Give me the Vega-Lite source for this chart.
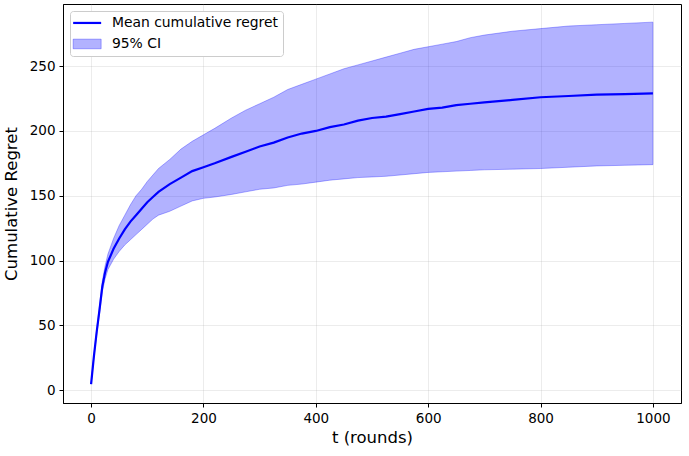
{
  "$schema": "https://vega.github.io/schema/vega-lite/v6.json",
  "autosize": "none",
  "width": 618,
  "height": 399,
  "padding": {"left": 63, "top": 4, "right": 8, "bottom": 53},
  "background": "white",
  "config": {
    "font": "DejaVu Sans",
    "view": {"stroke": "black", "strokeWidth": 1},
    "axis": {
      "domainColor": "black", "tickColor": "black", "tickSize": 4,
      "labelFont": "DejaVu Sans", "labelFontSize": 13.5, "labelColor": "black",
      "titleFont": "DejaVu Sans", "titleFontSize": 16.5, "titleFontWeight": "normal", "titleColor": "black",
      "gridColor": "#b0b0b0", "gridOpacity": 0.3, "gridWidth": 0.8
    },
    "legend": {
      "labelFont": "DejaVu Sans", "labelFontSize": 13.9, "labelColor": "black", "labelLimit": 400
    }
  },
  "data": {
    "values": [
      {"t": 0, "mean": 4.5, "lo": 4.5, "hi": 4.5},
      {"t": 5, "mean": 26, "lo": 25, "hi": 27},
      {"t": 10, "mean": 45, "lo": 43, "hi": 47},
      {"t": 15, "mean": 62, "lo": 59, "hi": 65},
      {"t": 20, "mean": 80, "lo": 76, "hi": 84},
      {"t": 25, "mean": 91, "lo": 86, "hi": 96},
      {"t": 30, "mean": 99, "lo": 93, "hi": 105},
      {"t": 40, "mean": 109, "lo": 101, "hi": 117},
      {"t": 50, "mean": 117, "lo": 107, "hi": 127},
      {"t": 60, "mean": 124, "lo": 112, "hi": 135},
      {"t": 70, "mean": 130, "lo": 116, "hi": 143},
      {"t": 80, "mean": 135, "lo": 120, "hi": 150},
      {"t": 90, "mean": 140, "lo": 124, "hi": 155},
      {"t": 100, "mean": 145, "lo": 128, "hi": 161},
      {"t": 110, "mean": 149, "lo": 132, "hi": 166},
      {"t": 120, "mean": 153, "lo": 135, "hi": 171},
      {"t": 140, "mean": 159, "lo": 138, "hi": 178},
      {"t": 160, "mean": 164, "lo": 142, "hi": 186},
      {"t": 180, "mean": 169, "lo": 146, "hi": 192},
      {"t": 200, "mean": 172, "lo": 148, "hi": 197},
      {"t": 220, "mean": 175, "lo": 149, "hi": 202},
      {"t": 250, "mean": 180, "lo": 151, "hi": 210},
      {"t": 275, "mean": 184, "lo": 153, "hi": 216},
      {"t": 300, "mean": 188, "lo": 155, "hi": 221},
      {"t": 325, "mean": 191, "lo": 156, "hi": 226},
      {"t": 350, "mean": 195, "lo": 158, "hi": 232},
      {"t": 375, "mean": 198, "lo": 159, "hi": 236},
      {"t": 400, "mean": 200, "lo": 160.5, "hi": 240},
      {"t": 425, "mean": 203, "lo": 162, "hi": 244},
      {"t": 450, "mean": 205, "lo": 163, "hi": 248},
      {"t": 475, "mean": 208, "lo": 164, "hi": 251},
      {"t": 500, "mean": 210, "lo": 164.5, "hi": 254},
      {"t": 525, "mean": 211, "lo": 165, "hi": 257},
      {"t": 550, "mean": 213, "lo": 166, "hi": 260},
      {"t": 575, "mean": 215, "lo": 167, "hi": 263},
      {"t": 600, "mean": 217, "lo": 168, "hi": 265},
      {"t": 625, "mean": 218, "lo": 168.5, "hi": 267},
      {"t": 650, "mean": 220, "lo": 169, "hi": 269},
      {"t": 675, "mean": 221, "lo": 169.5, "hi": 272},
      {"t": 700, "mean": 222, "lo": 170, "hi": 274},
      {"t": 750, "mean": 224, "lo": 170.5, "hi": 277},
      {"t": 800, "mean": 226, "lo": 171, "hi": 279},
      {"t": 850, "mean": 227, "lo": 172, "hi": 281},
      {"t": 900, "mean": 228, "lo": 173, "hi": 282},
      {"t": 950, "mean": 228.5, "lo": 173.5, "hi": 283},
      {"t": 1000, "mean": 229, "lo": 174, "hi": 284}
    ]
  },
  "layer": [
    {
      "mark": {"type": "area", "fillOpacity": 0.3, "stroke": "#0000ff", "strokeOpacity": 0.3, "strokeWidth": 1},
      "encoding": {
        "x": {"field": "t", "type": "quantitative", "scale": {"domain": [-50, 1050], "nice": false, "zero": false},
          "axis": {"values": [0, 200, 400, 600, 800, 1000], "format": "d", "title": "t (rounds)", "titlePadding": 5, "labelPadding": 4}},
        "y": {"field": "lo", "type": "quantitative", "scale": {"domain": [-10, 298], "nice": false, "zero": false},
          "axis": {"values": [0, 50, 100, 150, 200, 250], "title": "Cumulative Regret", "titlePadding": 10, "labelPadding": 4}},
        "y2": {"field": "hi"},
        "color": {"datum": "95% CI", "type": "nominal"}
      }
    },
    {
      "mark": {"type": "line", "strokeWidth": 2.2},
      "encoding": {
        "x": {"field": "t", "type": "quantitative"},
        "y": {"field": "mean", "type": "quantitative"},
        "color": {"datum": "Mean cumulative regret", "type": "nominal",
          "scale": {"domain": ["Mean cumulative regret", "95% CI"], "range": ["#0000ff", "#0000ff"]},
          "legend": {
            "title": null, "orient": "none", "legendX": 7, "legendY": 7,
            "fillColor": "white", "strokeColor": "#cccccc", "cornerRadius": 3, "padding": 5,
            "symbolSize": 256, "rowPadding": 6, "labelOffset": 23,
            "encode": {
              "symbols": {
                "update": {
                  "shape": {"signal": "datum.value === '95% CI' ? 'M-1.1,-0.6H2.4V0.6H-1.1Z' : 'M-1.1,0H2.4'"},
                  "fill": {"value": "#0000ff"},
                  "fillOpacity": {"signal": "datum.value === '95% CI' ? 0.3 : 0"},
                  "stroke": {"value": "#0000ff"},
                  "strokeOpacity": {"signal": "datum.value === '95% CI' ? 0.3 : 1"},
                  "strokeWidth": {"signal": "datum.value === '95% CI' ? 1 : 2.2"},
                  "opacity": {"value": 1}
                }
              }
            }
          }}
      }
    }
  ]
}
